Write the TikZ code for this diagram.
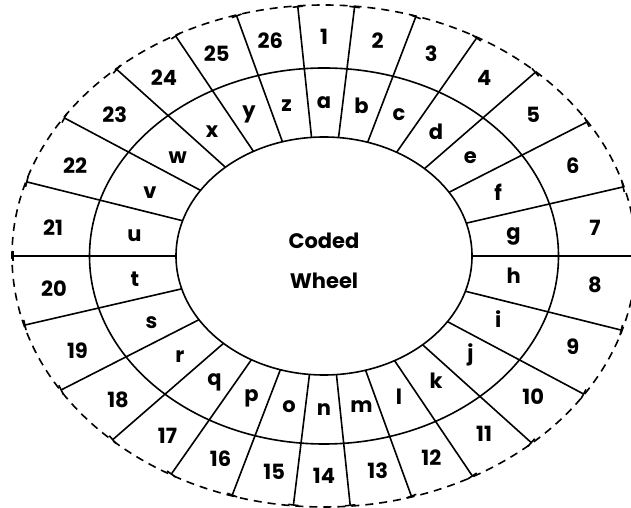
\documentclass[tikz,border=0pt]{standalone}
\usepackage{fontspec}
\setmainfont{Poppins}
\usepackage{tikz}
\usetikzlibrary{shapes.geometric, arrows, calc}
\tikzset{
    ring/.style={ellipse, draw=black, line width=1.6pt, inner sep=0pt, outer sep=0pt},
    spoke/.style={line width=1.6pt, -|},
    label/.style={font=\bfseries\fontsize{21}{21}\selectfont, inner sep=0pt},
    title/.style={font=\bfseries\fontsize{21}{40}\selectfont, align=center}
}

\begin{document}
\begin{tikzpicture}[x=1pt, y=1pt]
    \useasboundingbox (0,0) rectangle (631,508);
    \coordinate (c) at (324,252);
    \node (outer) [ring, dash pattern=on 8pt off 6pt, minimum width=624pt, minimum height=502pt] at (c) {};
    \node (middle) [ring, minimum width=469pt, minimum height=376pt] at (c) {};
    \node (inner) [ring, minimum width=296pt, minimum height=238pt] at (c) {};
    \node (title) [title] at (324,247) {Coded\\Wheel};

    % spokes between the sectors
    \foreach \a [evaluate=\a as \sa using \a*360/26] in {0,...,25}
        \draw [spoke] (inner.\sa) -- (outer.\sa);

    % numbers outside, letters inside
    \foreach \l [count=\n, evaluate=\n as \ang using 90-(\n-1)*360/26] in {a,b,...,z} {
        \node (num\n) [label] at ($(middle.\ang)!0.5!(outer.\ang)$) {\n};
        \node (let\n) [label] at ($(inner.\ang)!0.5!(middle.\ang)$) {\l};
    }
\end{tikzpicture}
\end{document}
